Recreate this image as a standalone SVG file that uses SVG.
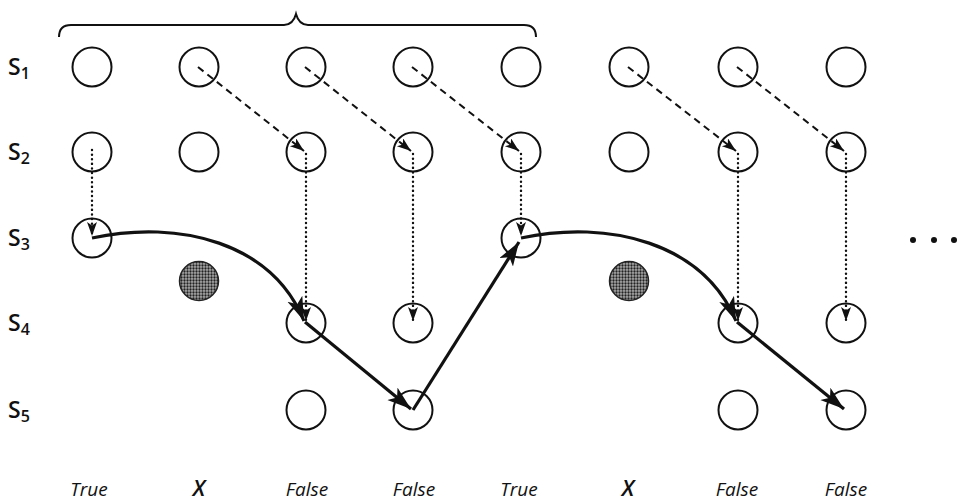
<svg xmlns="http://www.w3.org/2000/svg" width="958" height="504" viewBox="0 0 958 504">
<style>
.c{fill:none;stroke:#111;stroke-width:2}
.sh{fill:url(#dots);stroke:#222;stroke-width:1.5}
.lab{font-family:"Open Sans","Noto Sans",sans-serif;font-size:23px;font-weight:600;fill:#111}
.sub{font-size:16px}
.bot{font-family:"Open Sans","Noto Sans",sans-serif;font-style:italic;font-size:19px;fill:#111;text-anchor:middle}
.bx{font-size:22px;font-weight:600}
.dash{fill:none;stroke:#111;stroke-width:2;stroke-dasharray:7 5}
.dot{fill:none;stroke:#111;stroke-width:2.4;stroke-dasharray:0.1 4.5;stroke-linecap:round}
.solid{fill:none;stroke:#111;stroke-width:3.2}
</style>
<defs>
<pattern id="dots" width="3" height="3" patternUnits="userSpaceOnUse">
<rect width="3" height="3" fill="#aaa"/>
<circle cx="1.5" cy="1.5" r="1.15" fill="#222"/>
</pattern>
<marker id="big" markerUnits="userSpaceOnUse" markerWidth="26" markerHeight="18" refX="24" refY="8" orient="auto">
<path d="M0,0 L24,8 L0,16 L6,8 z" fill="#111"/>
</marker>
<marker id="small" markerUnits="userSpaceOnUse" markerWidth="16" markerHeight="12" refX="14" refY="5" orient="auto">
<path d="M0,0 L14,5 L0,10 L3.5,5 z" fill="#111"/>
</marker>
</defs>
<rect width="958" height="504" fill="#fff"/>
<g id="brace"><path d="M59,37 Q59,25 71,25 L284,25 Q293,25 296,14 Q299,25 308,25 L524,25 Q536,25 536,37" fill="none" stroke="#111" stroke-width="2"/></g>
<g id="row-labels">
<text class="lab" x="8" y="75">S<tspan class="sub" dy="4">1</tspan></text>
<text class="lab" x="8" y="160">S<tspan class="sub" dy="4">2</tspan></text>
<text class="lab" x="8" y="246">S<tspan class="sub" dy="4">3</tspan></text>
<text class="lab" x="8" y="331">S<tspan class="sub" dy="4">4</tspan></text>
<text class="lab" x="8" y="418">S<tspan class="sub" dy="4">5</tspan></text>
</g>
<g id="col1"><circle class="c" cx="92" cy="67" r="19.5"/><circle class="c" cx="92" cy="152" r="19.5"/><circle class="c" cx="92" cy="238" r="19.5"/></g>
<g id="col2"><circle class="c" cx="199" cy="67" r="19.5"/><circle class="c" cx="199" cy="152" r="19.5"/><circle class="sh" cx="199" cy="281" r="19.5"/></g>
<g id="col3"><circle class="c" cx="306" cy="67" r="19.5"/><circle class="c" cx="306" cy="152" r="19.5"/><circle class="c" cx="306" cy="323" r="19.5"/><circle class="c" cx="306" cy="410" r="19.5"/></g>
<g id="col4"><circle class="c" cx="413" cy="67" r="19.5"/><circle class="c" cx="413" cy="152" r="19.5"/><circle class="c" cx="413" cy="323" r="19.5"/><circle class="c" cx="413" cy="410" r="19.5"/></g>
<g id="col5"><circle class="c" cx="521" cy="67" r="19.5"/><circle class="c" cx="521" cy="152" r="19.5"/><circle class="c" cx="521" cy="238" r="19.5"/></g>
<g id="col6"><circle class="c" cx="629" cy="67" r="19.5"/><circle class="c" cx="629" cy="152" r="19.5"/><circle class="sh" cx="629" cy="281" r="19.5"/></g>
<g id="col7"><circle class="c" cx="738" cy="67" r="19.5"/><circle class="c" cx="738" cy="152" r="19.5"/><circle class="c" cx="738" cy="323" r="19.5"/><circle class="c" cx="738" cy="410" r="19.5"/></g>
<g id="col8"><circle class="c" cx="846" cy="67" r="19.5"/><circle class="c" cx="846" cy="152" r="19.5"/><circle class="c" cx="846" cy="323" r="19.5"/><circle class="c" cx="846" cy="410" r="19.5"/></g>
<g id="ellipsis" fill="#111"><circle cx="913" cy="240" r="3"/><circle cx="934" cy="240" r="3"/><circle cx="954" cy="240" r="3"/></g>
<g id="connectors">
<path class="dash" d="M198,67 L304,151" marker-end="url(#small)"/>
<path class="dash" d="M305,67 L411,151" marker-end="url(#small)"/>
<path class="dash" d="M412,67 L519,151" marker-end="url(#small)"/>
<path class="dash" d="M628,67 L736,151" marker-end="url(#small)"/>
<path class="dash" d="M737,67 L844,151" marker-end="url(#small)"/>
<path class="dot" d="M92,150 L92,236" marker-end="url(#small)"/>
<path class="dot" d="M306,154 L306,321" marker-end="url(#small)"/>
<path class="dot" d="M413,154 L413,321" marker-end="url(#small)"/>
<path class="dot" d="M521,154 L521,236" marker-end="url(#small)"/>
<path class="dot" d="M738,154 L738,321" marker-end="url(#small)"/>
<path class="dot" d="M846,154 L846,321" marker-end="url(#small)"/>
<path class="solid" d="M92,238 C180,219 272,243 304,321" marker-end="url(#big)"/>
<path class="solid" d="M305,322 L411,409" marker-end="url(#big)"/>
<path class="solid" d="M413,410 L519,242" marker-end="url(#big)"/>
<path class="solid" d="M521,238 C609,219 703,243 736,321" marker-end="url(#big)"/>
<path class="solid" d="M737,322 L844,409" marker-end="url(#big)"/>
</g>
<g id="bottom-labels">
<text class="bot" x="89" y="496">True</text>
<text class="bot bx" x="199" y="496">X</text>
<text class="bot" x="307" y="496">False</text>
<text class="bot" x="414" y="496">False</text>
<text class="bot" x="519" y="496">True</text>
<text class="bot bx" x="628" y="496">X</text>
<text class="bot" x="737" y="496">False</text>
<text class="bot" x="846" y="496">False</text>
</g>
</svg>
